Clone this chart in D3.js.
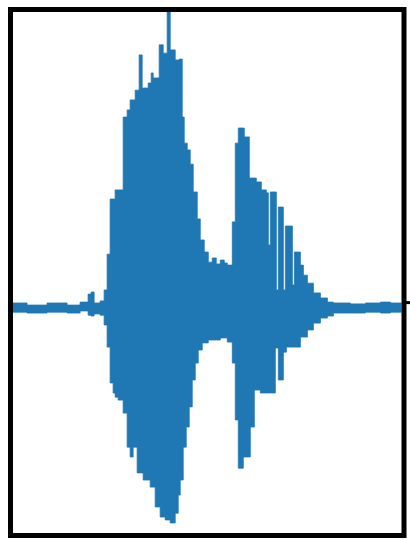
<!DOCTYPE html>
<html>
<head>
<meta charset="utf-8">
<script src="https://cdn.jsdelivr.net/npm/d3@7"></script>
<style>
  html, body { margin: 0; padding: 0; background: #ffffff; }
  svg { display: block; }
</style>
</head>
<body>
<svg id="chart" width="410" height="540"></svg>
<script>
// Waveform envelope, one entry per step: start frame, peak (upper) and trough (lower) amplitude.
const frames = [0, 14, 34, 54, 67, 75, 78, 81, 87, 91, 94, 97, 100, 102, 105, 110, 114, 117, 120, 122,
  124, 126, 129, 130, 135, 137, 138, 140, 142, 146, 147, 150, 152, 154, 157, 162, 165, 166, 167, 169,
  170, 171, 173, 174, 176, 177, 179, 180, 182, 184, 185, 187, 189, 191, 195, 199, 203, 207, 211, 214,
  219, 222, 225, 230, 231, 236, 237, 241, 243, 247, 248, 253, 255, 257, 262, 263, 265, 270, 272, 273,
  279, 281, 287, 290, 294, 300, 307, 314, 320, 337, 352, 367, 377];

const upper = [0.017, 0.010, 0.017, 0.010, 0.020, 0.047, 0.054, 0.017, 0.024, 0.061, 0.182, 0.368, 0.368, 0.399, 0.399, 0.645, 0.669, 0.703, 0.703, 0.736,
  0.736, 0.855, 0.743, 0.743, 0.760, 0.760, 0.794, 0.777, 0.777, 0.889, 0.889, 0.861, 0.861, 1.000, 0.872, 0.838, 0.838, 0.841, 0.841, 0.645,
  0.645, 0.557, 0.557, 0.534, 0.534, 0.486, 0.486, 0.392, 0.392, 0.301, 0.301, 0.230, 0.230, 0.189, 0.155, 0.169, 0.149, 0.162, 0.152, 0.145,
  0.291, 0.557, 0.608, 0.608, 0.578, 0.439, 0.439, 0.439, 0.426, 0.426, 0.399, 0.389, 0.213, 0.392, 0.392, 0.061, 0.341, 0.061, 0.277, 0.277,
  0.078, 0.189, 0.145, 0.111, 0.084, 0.051, 0.034, 0.020, 0.017, 0.014, 0.017, 0.020, 0.017];

const lower = [-0.014, -0.017, -0.014, -0.017, -0.010, -0.024, -0.027, -0.020, -0.024, -0.057, -0.132, -0.253, -0.287, -0.301, -0.311, -0.355, -0.470, -0.503, -0.470, -0.470,
  -0.557, -0.557, -0.557, -0.581, -0.581, -0.605, -0.605, -0.605, -0.672, -0.672, -0.706, -0.706, -0.716, -0.716, -0.726, -0.693, -0.632, -0.632, -0.581, -0.581,
  -0.470, -0.470, -0.402, -0.402, -0.334, -0.334, -0.243, -0.243, -0.186, -0.186, -0.142, -0.142, -0.118, -0.118, -0.108, -0.108, -0.108, -0.101, -0.101, -0.115,
  -0.186, -0.378, -0.541, -0.503, -0.503, -0.503, -0.402, -0.277, -0.277, -0.287, -0.287, -0.287, -0.287, -0.287, -0.135, -0.135, -0.243, -0.149, -0.149, -0.132,
  -0.132, -0.132, -0.098, -0.098, -0.074, -0.051, -0.034, -0.027, -0.017, -0.017, -0.014, -0.017, -0.014];

const frameCount = 388;
const yDomain = [-0.76, 1.0];
const rightTicks = [0.02];

const svg = d3.select("#chart");
const plot = { left: 13, right: 401.5, top: 12, bottom: 533 };

const x = d3.scaleLinear().domain([0, frameCount]).range([plot.left, plot.right]);
const y = d3.scaleLinear().domain(yDomain).range([plot.bottom, plot.top]);

const series = frames.map((f, i) => ({ f, hi: upper[i], lo: lower[i] }));
series.push({ f: frameCount, hi: upper[upper.length - 1], lo: lower[lower.length - 1] });

svg.append("defs").append("clipPath").attr("id", "plot-clip")
  .append("rect")
  .attr("x", plot.left).attr("y", plot.top)
  .attr("width", plot.right - plot.left).attr("height", plot.bottom - plot.top);

const area = d3.area()
  .x(d => x(d.f))
  .y0(d => y(d.lo))
  .y1(d => y(d.hi))
  .curve(d3.curveStepAfter);

svg.append("path")
  .datum(series)
  .attr("clip-path", "url(#plot-clip)")
  .attr("d", area)
  .attr("fill", "#1f77b4")
  .attr("stroke", "#1f77b4")
  .attr("stroke-width", 0.8)
  .attr("stroke-linejoin", "miter");

// Frame around the plot
svg.append("rect")
  .attr("x", 10.5).attr("y", 9.5)
  .attr("width", 393.5).attr("height", 526)
  .attr("fill", "none")
  .attr("stroke", "#000")
  .attr("stroke-width", 5);

// Right-hand tick
const axisR = d3.axisRight(y).tickValues(rightTicks).tickSize(6).tickFormat("");
const gR = svg.append("g").attr("transform", "translate(404,0)").call(axisR);
gR.select(".domain").remove();
gR.selectAll(".tick line").attr("stroke", "#000").attr("stroke-width", 3);
</script>
</body>
</html>
